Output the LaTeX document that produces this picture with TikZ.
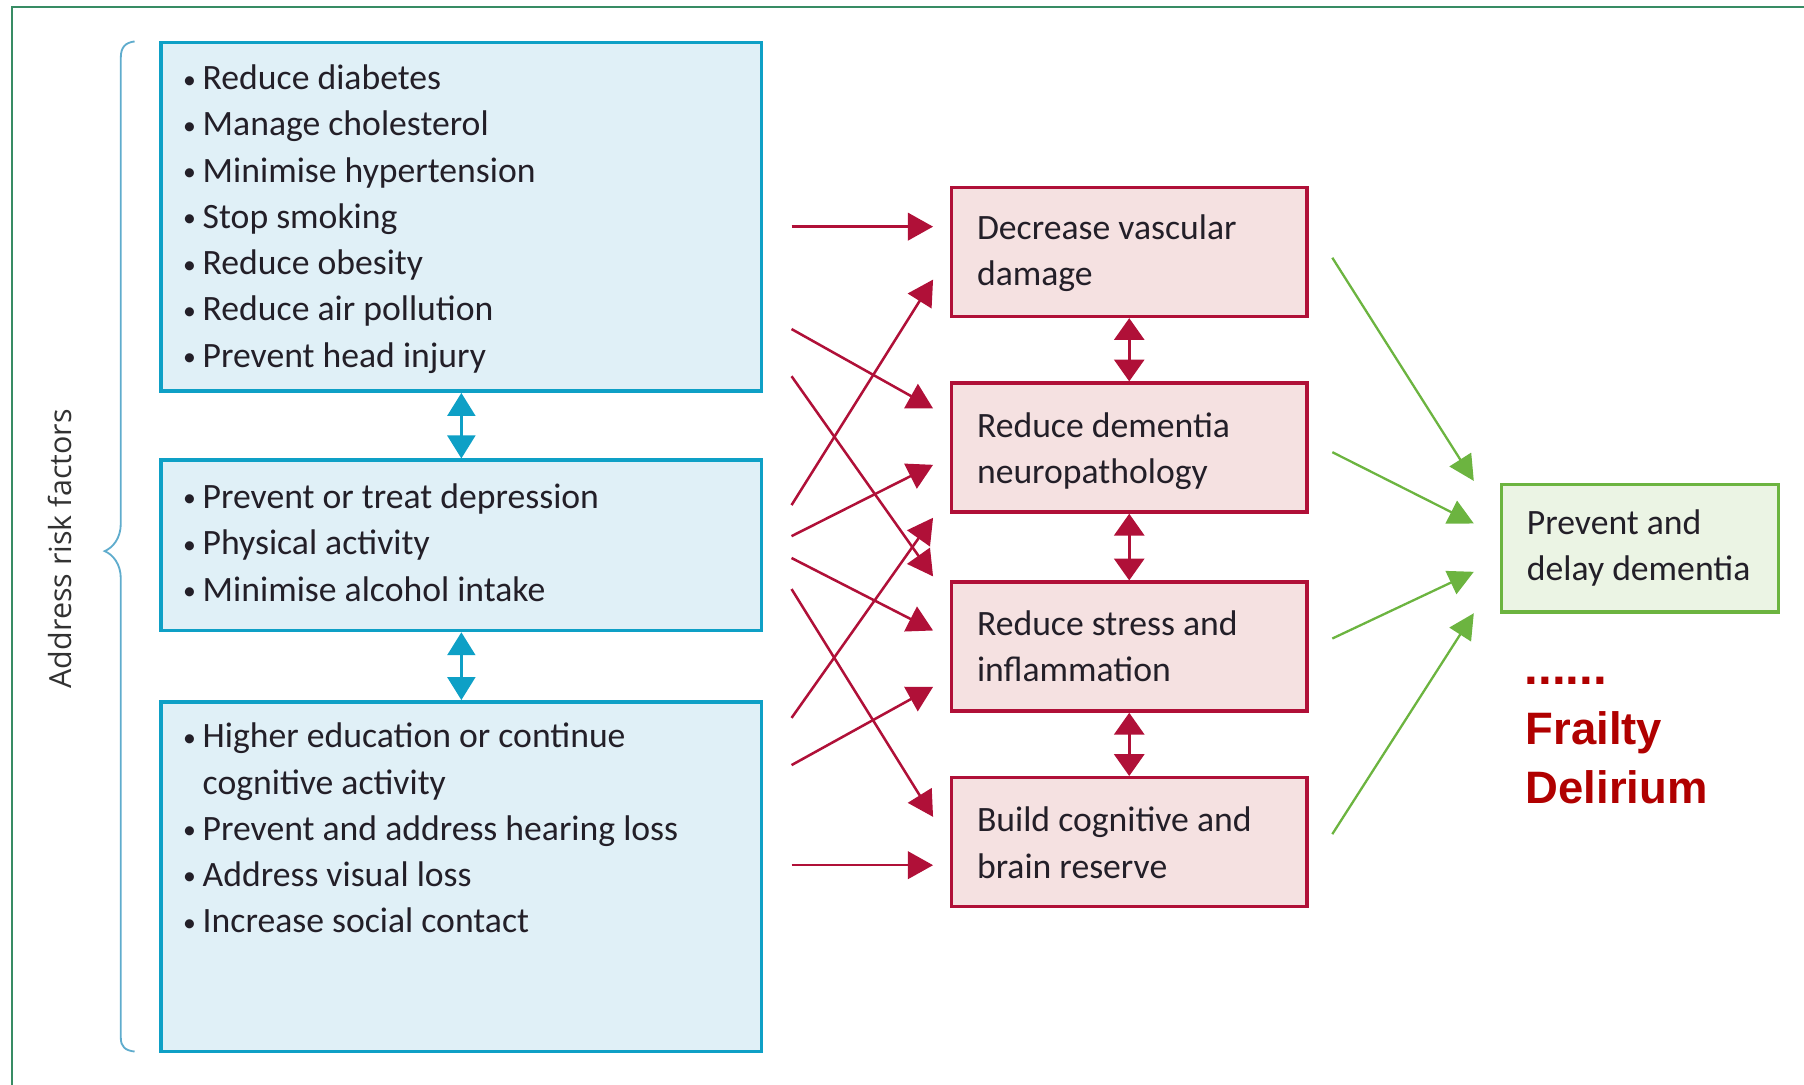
\documentclass[tikz,border=0pt]{standalone}
\usepackage{fontspec}
\usepackage{graphicx}
\setmainfont{Carlito}
\newfontfamily\sidefont{Open Sans}
\newfontfamily\notefont{Liberation Sans}
\usetikzlibrary{arrows.meta}

\definecolor{framegreen}{RGB}{56,140,100}
\definecolor{bluec}{RGB}{14,160,198}
\definecolor{bluefill}{RGB}{224,240,247}
\definecolor{bracec}{RGB}{95,172,205}
\definecolor{redc}{RGB}{176,16,56}
\definecolor{redfill}{RGB}{245,225,225}
\definecolor{greenc}{RGB}{108,180,64}
\definecolor{greenfill}{RGB}{235,244,228}
\definecolor{ink}{RGB}{35,31,40}
\definecolor{sidegray}{RGB}{50,50,50}
\definecolor{notered}{RGB}{176,0,0}

\newcommand\itembullet{\makebox[20pt][l]{\hspace{3pt}\raisebox{1.5pt}{\scalebox{0.72}{\textbullet}}}}

\begin{document}
\begin{tikzpicture}[x=1pt,y=-1pt,
  bluebox/.style={draw=bluec, fill=bluefill, line width=3pt, inner sep=0pt, minimum width=522pt},
  redbox/.style={draw=redc, fill=redfill, line width=3pt, inner sep=0pt, minimum width=309pt, minimum height=112pt},
  greenbox/.style={draw=greenc, fill=greenfill, line width=3pt, inner sep=0pt, minimum width=241pt, minimum height=111pt},
  listtext/.style={anchor=base west, inner sep=0pt, text=ink, font=\fontsize{31}{40.2}\selectfont},
  boxtext/.style={anchor=base west, inner sep=0pt, text=ink, font=\fontsize{31}{40.5}\selectfont},
  redarrow/.style={draw=redc, line width=2.2pt, -{Triangle[length=22pt,width=24pt]}},
  greenarrow/.style={draw=greenc, line width=2pt, -{Triangle[length=22pt,width=22pt]}},
  bluelink/.style={draw=bluec, line width=3pt, {Triangle[length=20pt,width=24pt]}-{Triangle[length=20pt,width=24pt]}},
  redlink/.style={draw=redc, line width=3pt, {Triangle[length=19pt,width=26pt]}-{Triangle[length=19pt,width=26pt]}},
]
\useasboundingbox (0,0) rectangle (1568,943);

% outer frame (top and left edges)
\draw[framegreen, line width=2pt] (1568,6) -- (10.5,6) -- (10.5,943);

% risk factor groups
\node[bluebox, minimum height=303pt] (b1) at (401,188.5) {};
\node[bluebox, minimum height=148pt] (b2) at (401,474) {};
\node[bluebox, minimum height=304pt] (b3) at (401,762) {};

\node[listtext] (t1) at (156,78) {\begin{minipage}[t]{500pt}
\itembullet Reduce diabetes\par
\itembullet Manage cholesterol\par
\itembullet Minimise hypertension\par
\itembullet Stop smoking\par
\itembullet Reduce obesity\par
\itembullet Reduce air pollution\par
\itembullet Prevent head injury\end{minipage}};

\node[listtext] (t2) at (156,442) {\begin{minipage}[t]{500pt}
\itembullet Prevent or treat depression\par
\itembullet Physical activity\par
\itembullet Minimise alcohol intake\end{minipage}};

\node[listtext] (t3) at (156,650) {\begin{minipage}[t]{500pt}
\itembullet Higher education or continue\par
\hspace*{20pt}cognitive activity\par
\itembullet Prevent and address hearing loss\par
\itembullet Address visual loss\par
\itembullet Increase social contact\end{minipage}};

% brace and side label
\draw[bracec, line width=1.6pt] (117,36) .. controls (109,37) and (105,41) .. (105,50)
  -- (105,455) .. controls (105,468) and (98,476) .. (91,479)
  .. controls (98,482) and (105,490) .. (105,503)
  -- (105,902) .. controls (105,910) and (109,913) .. (117,914);
\node[rotate=90, inner sep=0pt, text=sidegray, font=\sidefont\fontsize{26.5}{30}\selectfont] (side) at (52,477) {Address risk factors};

% mechanisms
\node[redbox] (r1) at (981.5,219) {};
\node[redbox] (r2) at (981.5,389) {};
\node[redbox] (r3) at (981.5,562) {};
\node[redbox] (r4) at (981.5,732) {};

\node[boxtext] (rt1) at (849,208) {\begin{minipage}[t]{280pt}Decrease vascular\par damage\end{minipage}};
\node[boxtext] (rt2) at (849,380) {\begin{minipage}[t]{280pt}Reduce dementia\par neuropathology\end{minipage}};
\node[boxtext] (rt3) at (849,552) {\begin{minipage}[t]{280pt}Reduce stress and\par inflammation\end{minipage}};
\node[boxtext] (rt4) at (849,723) {\begin{minipage}[t]{280pt}Build cognitive and\par brain reserve\end{minipage}};

% outcome
\node[greenbox] (g) at (1425.5,476.5) {};
\node[boxtext, font=\fontsize{31}{39.5}\selectfont] (gt) at (1327,465) {\begin{minipage}[t]{220pt}Prevent and\par delay dementia\end{minipage}};

\node[anchor=base west, inner sep=0pt, text=notered, font=\notefont\bfseries\fontsize{43}{43}\selectfont] (dots) at (1325,595) {......};
\node[anchor=base west, inner sep=0pt, text=notered, font=\notefont\bfseries\fontsize{39.5}{51}\selectfont] (extra) at (1326,647) {\begin{minipage}[t]{220pt}Frailty\par Delirium\end{minipage}};

% links between stacked boxes
\draw[bluelink] (b1.south) -- (b2.north);
\draw[bluelink] (b2.south) -- (b3.north);
\draw[redlink] (r1.south) -- (r2.north);
\draw[redlink] (r2.south) -- (r3.north);
\draw[redlink] (r3.south) -- (r4.north);

% arrow end points between the columns
\coordinate (s1) at (688,197);  \coordinate (e1) at (811,197);
\coordinate (s2) at (688,286);  \coordinate (e2) at (811,355);
\coordinate (s3) at (688,327);  \coordinate (e3) at (811,501);
\coordinate (s4) at (688,439);  \coordinate (e4) at (811,243);
\coordinate (s5) at (688,466);  \coordinate (e5) at (811,404);
\coordinate (s6) at (688,485);  \coordinate (e6) at (811,548);
\coordinate (s7) at (688,512);  \coordinate (e7) at (811,710);
\coordinate (s8) at (688,624);  \coordinate (e8) at (811,450);
\coordinate (s9) at (688,665);  \coordinate (e9) at (811,597);
\coordinate (s10) at (688,752); \coordinate (e10) at (811,752);

\foreach \i in {1,...,10} \draw[redarrow] (s\i) -- (e\i);

\coordinate (u1) at (1158,224); \coordinate (v1) at (1281,418);
\coordinate (u2) at (1158,393); \coordinate (v2) at (1281,455);
\coordinate (u3) at (1158,555); \coordinate (v3) at (1281,497);
\coordinate (u4) at (1158,725); \coordinate (v4) at (1281,533);

\foreach \i in {1,...,4} \draw[greenarrow] (u\i) -- (v\i);

\end{tikzpicture}
\end{document}
